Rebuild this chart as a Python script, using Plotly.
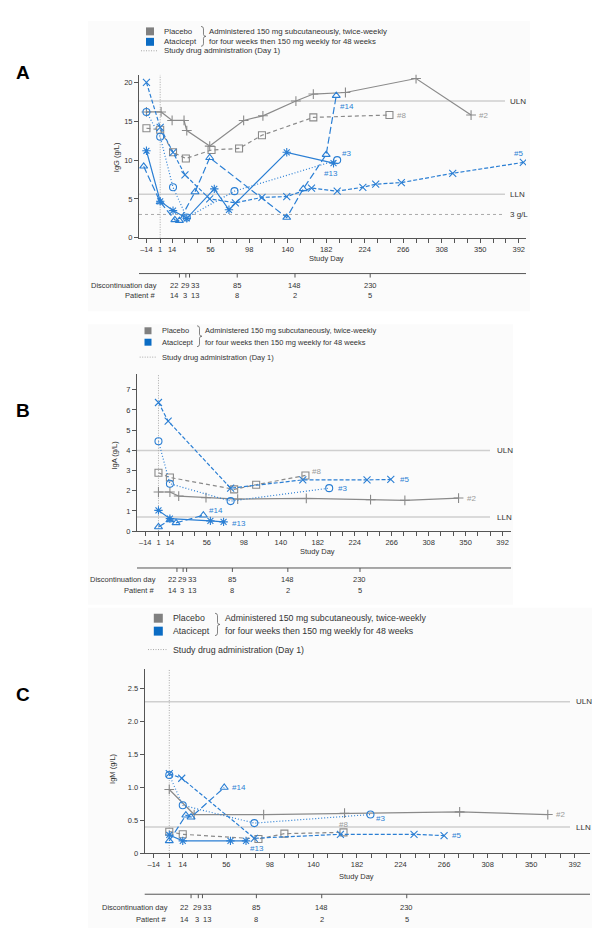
import plotly.graph_objects as go

W, H = 600, 934

# ---------------- data ----------------
x_tick_days = [-14, 1, 14, 56, 98, 140, 182, 224, 266, 308, 350, 392]
x_tick_text = ["–14", "1", "14", "56", "98", "140", "182", "224", "266", "308", "350", "392"]

disc_days = [22, 29, 33, 85, 148, 230]
disc_patients = ["14", "3", "13", "8", "2", "5"]

# Panel A - IgG (g/L)
igg_p2_day = [-14, 2, 14, 27, 30, 55, 92, 113, 149, 168, 203, 280, 340]
igg_p2_val = [16.2, 16.2, 15.1, 15.1, 13.8, 11.8, 15.1, 15.7, 17.6, 18.5, 18.7, 20.5, 15.8]
igg_p8_day = [-14, 1, 15, 29, 57, 87, 112, 168, 251]
igg_p8_val = [14.1, 13.9, 11.0, 10.2, 11.3, 11.5, 13.2, 15.5, 15.8]
igg_p3_day = [-14, 1, 15, 30, 82, 194]
igg_p3_val = [16.2, 13.0, 6.5, 2.6, 6.0, 10.0]
igg_p5_day = [-14, 1, 15, 28, 55, 83, 112, 139, 166, 194, 222, 236, 264, 320, 397]
igg_p5_val = [20.0, 14.2, 11.0, 8.1, 5.0, 4.5, 5.2, 5.3, 6.4, 6.0, 6.5, 6.9, 7.1, 8.3, 9.7]
igg_p13_day = [-14, 1, 15, 30, 60, 76, 139, 190]
igg_p13_val = [11.2, 4.7, 3.5, 2.5, 6.3, 3.6, 11.0, 9.6]
igg_p14_day = [-17, 1, 17, 22, 39, 55, 139, 157, 182, 193]
igg_p14_val = [9.2, 4.6, 2.3, 2.2, 5.9, 10.3, 2.6, 6.3, 10.7, 18.3]
igg_ref_vals = [17.6, 5.6, 3.0]
igg_ref_names = ["ULN", "LLN", "3 g/L"]

# Panel B - IgA (g/L)
iga_p2_day = [1, 14, 24, 55, 91, 169, 242, 281, 342]
iga_p2_val = [1.94, 1.94, 1.74, 1.66, 1.59, 1.62, 1.56, 1.53, 1.64]
iga_p8_day = [1, 14, 87, 112, 168]
iga_p8_val = [2.89, 2.66, 2.07, 2.30, 2.76]
iga_p3_day = [1, 14, 83, 195]
iga_p3_val = [4.45, 2.35, 1.49, 2.13]
iga_p5_day = [1, 12, 83, 165, 238, 265]
iga_p5_val = [6.37, 5.45, 2.13, 2.54, 2.54, 2.56]
iga_p13_day = [1, 14, 60, 75]
iga_p13_val = [1.03, 0.62, 0.51, 0.46]
iga_p14_day = [1, 14, 21, 52]
iga_p14_val = [0.21, 0.55, 0.41, 0.79]
iga_ref_vals = [4.0, 0.7]
iga_ref_names = ["ULN", "LLN"]

# Panel C - IgM (g/L)
igm_p2_day = [1, 25, 92, 170, 281, 366]
igm_p2_val = [0.97, 0.59, 0.59, 0.61, 0.63, 0.59]
igm_p8_day = [1, 14, 87, 112, 169]
igm_p8_val = [0.33, 0.29, 0.22, 0.30, 0.32]
igm_p3_day = [1, 14, 83, 195]
igm_p3_val = [1.19, 0.73, 0.46, 0.59]
igm_p5_day = [1, 13, 83, 166, 237, 266]
igm_p5_val = [1.21, 1.14, 0.23, 0.29, 0.29, 0.27]
igm_p13_day = [1, 14, 60, 75]
igm_p13_val = [0.28, 0.19, 0.19, 0.19]
igm_p14_day = [1, 17, 22, 54]
igm_p14_val = [0.19, 0.58, 0.55, 1.00]
igm_ref_vals = [2.3, 0.4]
igm_ref_names = ["ULN", "LLN"]

# ---------------- styles ----------------
GRAY = "#8a8a8a"
GRAY_TXT = "#9a9a9a"
BLUE = "#2b7fd4"
AXIS = "#555555"
TXT = "#333333"
FONT = "Liberation Sans, Arial, sans-serif"

STYLES = {
    "2": dict(color=GRAY, dash="solid", symbol="cross-thin-open", lab=GRAY_TXT),
    "8": dict(color=GRAY, dash="4px,3px", symbol="square-open", lab=GRAY_TXT),
    "3": dict(color=BLUE, dash="1px,2px", symbol="circle-open", lab=BLUE),
    "5": dict(color=BLUE, dash="4px,2px", symbol="x-thin-open", lab=BLUE),
    "13": dict(color=BLUE, dash="solid", symbol="asterisk-open", lab=BLUE),
    "14": dict(color=BLUE, dash="7px,3px", symbol="triangle-up-open", lab=BLUE),
}


def fx(x):
    return x / W


def fy(y):
    return 1 - y / H


panels = [
    dict(letter="A", letter_y=65, xa="x", ya="y", ytitle="IgG (g/L)",
         series=[("2", igg_p2_day, igg_p2_val), ("8", igg_p8_day, igg_p8_val),
                 ("3", igg_p3_day, igg_p3_val), ("5", igg_p5_day, igg_p5_val),
                 ("13", igg_p13_day, igg_p13_val), ("14", igg_p14_day, igg_p14_val)],
         refs=(igg_ref_vals, igg_ref_names),
         yticks=[0, 5, 10, 15, 20], yticktext=["0", "5", "10", "15", "20"],
         xdom=(131, 518), xrange=(-22.1, 399.9), ydom=(67, 231), yrange=(0, 21),
         ref_end=497, ref_lab=500, ytitle_pos=(108, 150), study_y=252,
         disc_line=267, disc_lab=278.5, pat_lab=289.5, disc_right=151, disc_shift=[-5, -1, 5],
         legend=dict(sq_x=142, rows=(23.5, 34), dot_y=43, sq=8, fs=7.8, dx=12, brace=193, desc=199,
                     dot=(133, 150)),
         bg=(80, 13, 522, 305),
         labels={"14": (2, 11, "left"), "3": (3, -7, "left"), "13": (-3, 10, "center"),
                 "8": (6, 0, "left"), "2": (6, 0, "left"), "5": (-5, -9, "center")}),
    dict(letter="B", letter_y=405, xa="x2", ya="y2", ytitle="IgA (g/L)",
         series=[("2", iga_p2_day, iga_p2_val), ("8", iga_p8_day, iga_p8_val),
                 ("3", iga_p3_day, iga_p3_val), ("5", iga_p5_day, iga_p5_val),
                 ("13", iga_p13_day, iga_p13_val), ("14", iga_p14_day, iga_p14_val)],
         refs=(iga_ref_vals, iga_ref_names),
         yticks=[0, 1, 2, 3, 4, 5, 6, 7], yticktext=["0", "1", "2", "3", "4", "5", "6", "7"],
         xdom=(129, 503), xrange=(-23.4, 401.6), ydom=(368, 526), yrange=(0, 7.78),
         ref_end=482, ref_lab=487, ytitle_pos=(107, 450), study_y=546,
         disc_line=563, disc_lab=574.5, pat_lab=586, disc_right=150, disc_shift=[-5, -1, 5],
         legend=dict(sq_x=140, rows=(324.5, 336), dot_y=351, sq=7, fs=7.5, dx=11.7, brace=189, desc=195,
                     dot=(131.7, 148)),
         bg=(80, 318, 505, 600),
         labels={"14": (4, -5, "left"), "3": (7, 0, "left"), "13": (6, 2, "left"),
                 "8": (5, -4, "left"), "2": (6, 0, "left"), "5": (7, 0, "left")}),
    dict(letter="C", letter_y=690, xa="x3", ya="y3", ytitle="IgM (g/L)",
         series=[("2", igm_p2_day, igm_p2_val), ("8", igm_p8_day, igm_p8_val),
                 ("3", igm_p3_day, igm_p3_val), ("5", igm_p5_day, igm_p5_val),
                 ("13", igm_p13_day, igm_p13_val), ("14", igm_p14_day, igm_p14_val)],
         refs=(igm_ref_vals, igm_ref_names),
         yticks=[0, 0.5, 1, 1.5, 2, 2.5], yticktext=["0", "0.5", "1.0", "1.5", "2.0", "2.5"],
         xdom=(136.7, 582), xrange=(-22.7, 406.7), ydom=(665, 850), yrange=(0, 2.79),
         ref_end=562, ref_lab=566, ytitle_pos=(105, 765), study_y=873,
         disc_line=891, disc_lab=904, pat_lab=916, disc_right=162, disc_shift=[-7, -1, 5],
         legend=dict(sq_x=150.3, rows=(613.5, 626.5), dot_y=645, sq=9, fs=8.8, dx=13, brace=207, desc=215,
                     dot=(140, 160)),
         bg=(80, 603, 600, 925),
         labels={"14": (6, 0, "left"), "3": (4, 4, "left"), "13": (2, 8, "left"),
                 "8": (0, -8, "center"), "2": (6, 0, "left"), "5": (6, 0, "left")}),
]

fig = go.Figure()
shapes = []
annotations = []
layout_axes = {}


def brace_path(x, y0, y1):
    ym = (y0 + y1) / 2
    pts = [("M", [(x, y0)]),
           ("Q", [(x + 2.5, y0), (x + 2.5, y0 + 2.5)]),
           ("L", [(x + 2.5, ym - 2)]),
           ("Q", [(x + 2.5, ym), (x + 5, ym)]),
           ("Q", [(x + 2.5, ym), (x + 2.5, ym + 2)]),
           ("L", [(x + 2.5, y1 - 2.5)]),
           ("Q", [(x + 2.5, y1), (x, y1)])]
    out = []
    for cmd, ps in pts:
        out.append(cmd + " ".join(f"{fx(a):.5f},{fy(b):.5f}" for a, b in ps))
    return " ".join(out)


def add_text(x, y, text, size, color=TXT, xanchor="left", **kw):
    annotations.append(dict(x=fx(x), y=fy(y), xref="paper", yref="paper", text=text,
                            showarrow=False, xanchor=xanchor, yanchor="middle",
                            font=dict(family=FONT, size=size, color=color), **kw))


minor_days = [d for d in range(28, 400, 14) if d not in x_tick_days]

for p in panels:
    xa, ya = p["xa"], p["ya"]
    xkey = "xaxis" + xa[1:]
    ykey = "yaxis" + ya[1:]

    # faint panel background
    bx0, by0, bx1, by1 = p["bg"]
    shapes.append(dict(type="rect", xref="paper", yref="paper", x0=fx(bx0), x1=fx(bx1),
                       y0=fy(by1), y1=fy(by0), fillcolor="#fbfbfb", line=dict(width=0), layer="below"))

    # data lines
    for pid, days, vals in p["series"]:
        st = STYLES[pid]
        fig.add_trace(go.Scatter(
            x=days, y=vals, xaxis=xa, yaxis=ya, mode="lines+markers",
            line=dict(color=st["color"], width=1.2, dash=st["dash"]),
            marker=dict(symbol=st["symbol"], size=7, color=st["color"],
                        line=dict(color=st["color"], width=1.1)),
            showlegend=False, hoverinfo="skip"))
        dx, dy, anc = p["labels"][pid]
        annotations.append(dict(x=days[-1], y=vals[-1], xref=xa, yref=ya, text="#" + pid,
                                showarrow=False, xanchor=anc, yanchor="middle",
                                xshift=dx, yshift=-dy,
                                font=dict(family=FONT, size=8, color=st["lab"])))

    # axes
    layout_axes[xkey] = dict(
        domain=[fx(p["xdom"][0]), fx(p["xdom"][1])], range=list(p["xrange"]), anchor=ya,
        showline=True, linecolor=AXIS, linewidth=1, ticks="outside", ticklen=4,
        tickcolor=AXIS, tickwidth=1, tickmode="array", tickvals=x_tick_days,
        ticktext=x_tick_text, tickangle=0, showgrid=False, zeroline=False,
        tickfont=dict(family=FONT, size=7.5, color=TXT),
        minor=dict(tickmode="array", tickvals=minor_days, ticks="outside", ticklen=4,
                   tickcolor=AXIS, showgrid=False))
    layout_axes[ykey] = dict(
        domain=[fy(p["ydom"][1]), fy(p["ydom"][0])], range=list(p["yrange"]), anchor=xa,
        showline=True, linecolor=AXIS, linewidth=1, ticks="outside", ticklen=4,
        tickcolor=AXIS, tickwidth=1, tickmode="array", tickvals=p["yticks"],
        ticktext=p["yticktext"], showgrid=False, zeroline=False,
        tickfont=dict(family=FONT, size=7.5, color=TXT))

    # reference lines
    for val, name in zip(*p["refs"]):
        dashed = name == "3 g/L"
        shapes.append(dict(type="line", xref="paper", yref=ya,
                           x0=fx(p["xdom"][0]), x1=fx(p["ref_end"]), y0=val, y1=val,
                           line=dict(color="#aaaaaa" if dashed else "#cfcfcf",
                                     width=1 if dashed else 1.5,
                                     dash="3px,3px" if dashed else "solid"),
                           layer="below"))
        annotations.append(dict(x=fx(p["ref_lab"]), y=val, xref="paper", yref=ya, text=name,
                                showarrow=False, xanchor="left", yanchor="middle",
                                font=dict(family=FONT, size=8, color=TXT)))

    # day 1 dotted line
    shapes.append(dict(type="line", xref=xa, yref=ya, x0=1, x1=1, y0=0, y1=p["yrange"][1],
                       line=dict(color="#a8a8a8", width=1, dash="1px,1.5px"), layer="below"))

    # axis titles
    tx, ty = p["ytitle_pos"]
    add_text(tx, ty, p["ytitle"], 7.5, xanchor="center", textangle=-90)
    annotations.append(dict(x=182, y=fy(p["study_y"]), xref=xa, yref="paper", text="Study Day",
                            showarrow=False, xanchor="center", yanchor="middle",
                            font=dict(family=FONT, size=7.5, color=TXT)))

    # discontinuation axis
    shapes.append(dict(type="line", xref=xa + " domain", yref="paper", x0=0, x1=1,
                       y0=fy(p["disc_line"]), y1=fy(p["disc_line"]),
                       line=dict(color=AXIS, width=1)))
    for i, (d, pat) in enumerate(zip(disc_days, disc_patients)):
        shapes.append(dict(type="line", xref=xa, yref="paper", x0=d, x1=d,
                           y0=fy(p["disc_line"]), y1=fy(p["disc_line"] + 4),
                           line=dict(color=AXIS, width=1)))
        sh = p["disc_shift"][i] if i < 3 else 0
        for yy, txt in ((p["disc_lab"], str(d)), (p["pat_lab"], pat)):
            annotations.append(dict(x=d, y=fy(yy), xref=xa, yref="paper", text=txt,
                                    showarrow=False, xanchor="center", yanchor="middle",
                                    xshift=sh, font=dict(family=FONT, size=7.5, color=TXT)))
    add_text(p["disc_right"], p["disc_lab"], "Discontinuation day", 7.5, xanchor="right")
    add_text(p["disc_right"] - 2, p["pat_lab"], "Patient #", 7.5, xanchor="right")

    # panel letter
    add_text(15, p["letter_y"], "<b>" + p["letter"] + "</b>", 19, color="#000000", xanchor="center")

    # legend block
    lg = p["legend"]
    s = lg["sq"]
    for yy, col, name in ((lg["rows"][0], "#808080", "Placebo"), (lg["rows"][1], "#0b6cc4", "Atacicept")):
        shapes.append(dict(type="rect", xref="paper", yref="paper",
                           x0=fx(lg["sq_x"] - s / 2), x1=fx(lg["sq_x"] + s / 2),
                           y0=fy(yy + s / 2), y1=fy(yy - s / 2), fillcolor=col, line=dict(width=0)))
        add_text(lg["sq_x"] + lg["dx"], yy, name, lg["fs"])
    shapes.append(dict(type="path", xref="paper", yref="paper",
                       path=brace_path(lg["brace"], lg["rows"][0] - 5, lg["rows"][1] + 4.5),
                       line=dict(color="#666666", width=0.8)))
    add_text(lg["desc"], lg["rows"][0], "Administered 150 mg subcutaneously, twice-weekly", lg["fs"])
    add_text(lg["desc"], lg["rows"][1], "for four weeks then 150 mg weekly for 48 weeks", lg["fs"])
    shapes.append(dict(type="line", xref="paper", yref="paper",
                       x0=fx(lg["dot"][0]), x1=fx(lg["dot"][1]), y0=fy(lg["dot_y"]), y1=fy(lg["dot_y"]),
                       line=dict(color="#a8a8a8", width=1, dash="1px,1.5px")))
    add_text(lg["sq_x"] + lg["dx"], lg["dot_y"], "Study drug administration (Day 1)", lg["fs"])

fig.update_layout(
    width=W, height=H, margin=dict(l=0, r=0, t=0, b=0),
    paper_bgcolor="white", plot_bgcolor="rgba(0,0,0,0)",
    showlegend=False, shapes=shapes, annotations=annotations,
    font=dict(family=FONT, color=TXT),
    **layout_axes)

fig.write_html("out.html")
